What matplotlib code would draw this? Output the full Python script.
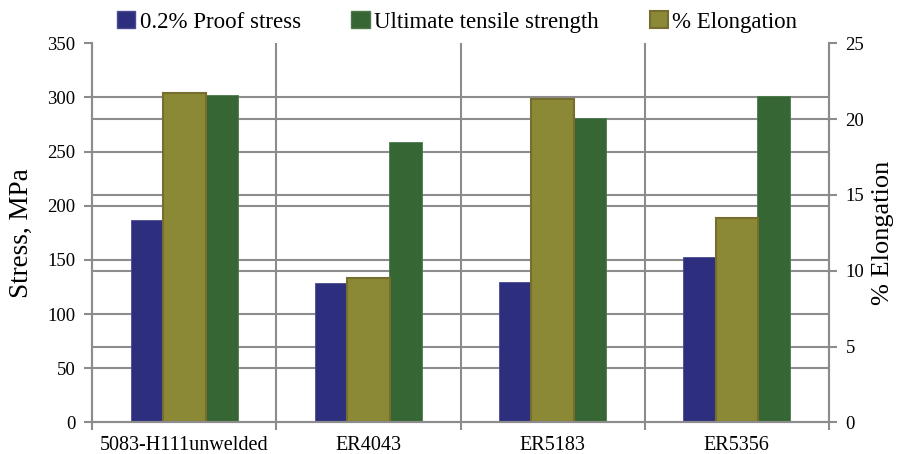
import matplotlib
matplotlib.use("Agg")
import matplotlib.pyplot as plt
from matplotlib.patches import Patch
import numpy as np

categories = ["5083-H111unwelded", "ER4043", "ER5183", "ER5356"]
proof_stress = [187, 129, 130, 153]
uts = [302, 259, 281, 301]
elongation = [21.75, 9.55, 21.3, 13.5]

left_ticks = [0, 50, 100, 150, 200, 250, 300, 350]
right_ticks = [0, 5, 10, 15, 20, 25]

c_blue = "#2E2E7F"
c_olive = "#8B8935"
c_olive_edge = "#776D2E"
c_green = "#366634"
c_grid = "#8C8C8C"

plt.rcParams['font.family'] = ['Liberation Serif', 'DejaVu Serif']

fig = plt.figure(figsize=(9, 4.54), dpi=100)
ax = fig.add_axes([0.1026, 0.0698, 0.8182, 0.8348])
ax2 = ax.twinx()

x = np.arange(len(categories))
ax.set_xlim(-0.5, len(categories) - 0.5)
ax.set_ylim(0, 350)
ax2.set_ylim(0, 25)

# gridlines
for t in left_ticks[1:-1]:
    ax.axhline(t, color=c_grid, lw=1.5, zorder=0.5)
for t in right_ticks[1:-1]:
    ax.axhline(t * 350 / 25, color=c_grid, lw=1.5, zorder=0.5)
for b in np.arange(0.5, len(categories) - 1, 1.0):
    ax.axvline(b, color=c_grid, lw=1.5, zorder=0.5)

ax.bar(x - 0.202, proof_stress, width=0.178, color=c_blue, edgecolor="#4a4a90", lw=0.6, zorder=2)
ax.bar(x + 0.201, uts, width=0.176, color=c_green, edgecolor="#4f7a4d", lw=0.6, zorder=2)
ax2.bar(x, elongation, width=0.23, color=c_olive, edgecolor=c_olive_edge, lw=1.5, zorder=2)

ax.set_yticks(left_ticks)
ax2.set_yticks(right_ticks)
ax.set_xticks(x)
ax.set_xticklabels(categories)
ax.set_xticks(np.arange(-0.5, len(categories), 1.0), minor=True)
ax.tick_params(axis='x', which='major', length=0, pad=10, labelsize=14.5)
ax.tick_params(axis='x', which='minor', length=6, width=1.5, color=c_grid)
ax.tick_params(axis='y', length=6, width=1.5, color=c_grid, labelsize=13.5, pad=6)
ax2.tick_params(axis='y', length=6, width=1.5, color=c_grid, labelsize=13.5, pad=6)

for a in (ax, ax2):
    for s in a.spines.values():
        s.set_color(c_grid)
        s.set_linewidth(1.5)
ax.spines['top'].set_visible(False)
ax2.spines['top'].set_visible(False)

ax.set_ylabel("Stress, MPa", fontsize=19.5, labelpad=10)
ax2.set_ylabel("% Elongation", fontsize=19, labelpad=6)

handles = [Patch(facecolor=c_blue, edgecolor="#4a4a90"),
           Patch(facecolor=c_green, edgecolor="#4f7a4d"),
           Patch(facecolor=c_olive, edgecolor=c_olive_edge, lw=1.5)]
labels = ["0.2% Proof stress", "Ultimate tensile strength", "% Elongation"]
fig.legend(handles, labels, loc='center', bbox_to_anchor=(0.508, 0.952), ncol=3,
           frameon=False, fontsize=16.5, handlelength=0.8, handleheight=0.8,
           handletextpad=0.2, columnspacing=2.2)

fig.savefig("out.png", dpi=100)
